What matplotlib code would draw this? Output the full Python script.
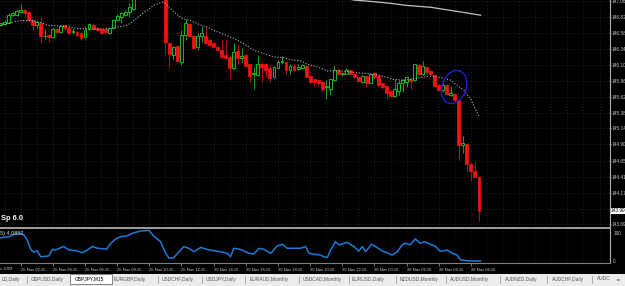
import numpy as np
import matplotlib
matplotlib.use('Agg')
import matplotlib.pyplot as plt
import matplotlib.transforms as mtransforms
from matplotlib.patches import Rectangle
from matplotlib.lines import Line2D

plt.rcParams['font.family'] = ['Liberation Sans', 'DejaVu Sans']

# GBPJPY M15 candles, 25 Nov 01:00 .. 26 Nov 06:45
opens = [146.70, 146.72, 146.74, 146.85, 146.85, 146.90, 146.93, 146.90, 146.78, 146.70,
         146.74, 146.53, 146.55, 146.52, 146.64, 146.60, 146.70, 146.66, 146.59, 146.60,
         146.58, 146.52, 146.64, 146.71, 146.65, 146.64, 146.64, 146.58, 146.65, 146.78,
         146.83, 146.85, 146.90, 146.94, 147.12, 147.22, 147.30, 147.26, 147.35, 147.30,
         147.28, 147.20, 146.43, 146.25, 146.39, 146.15, 146.55, 146.72, 146.54, 146.37,
         146.54, 146.54, 146.48, 146.43, 146.37, 146.33, 146.25, 146.22, 146.05, 146.31,
         146.21, 146.25, 146.11, 145.96, 145.95, 146.12, 146.11, 146.05, 145.91, 146.06,
         146.14, 146.15, 146.03, 146.09, 146.04, 146.05, 146.08, 145.93, 145.88, 145.87,
         145.84, 145.76, 145.74, 145.87, 146.03, 145.96, 145.97, 146.02, 145.97, 145.91,
         145.84, 145.93, 145.83, 145.98, 145.93, 145.82, 145.78, 145.71, 145.63, 145.71,
         145.82, 145.84, 145.89, 145.87, 146.10, 145.96, 146.07, 146.01, 145.94, 145.79,
         145.72, 145.79, 145.65, 145.66, 145.57, 144.89, 144.90, 144.60, 144.50, 144.41]
highs = [146.74, 146.78, 146.89, 146.90, 146.94, 147.02, 146.94, 146.91, 146.79, 146.77,
         146.84, 146.64, 146.56, 146.65, 146.65, 146.70, 146.71, 146.68, 146.65, 146.61,
         146.59, 146.68, 146.74, 146.73, 146.67, 146.65, 146.65, 146.66, 146.79, 146.87,
         146.90, 146.93, 147.04, 147.16, 147.25, 147.34, 147.36, 147.42, 147.40, 147.38,
         147.33, 147.25, 146.45, 146.38, 146.40, 146.63, 146.80, 146.74, 146.55, 146.58,
         146.69, 146.65, 146.50, 146.44, 146.38, 146.47, 146.47, 146.25, 146.43, 146.42,
         146.35, 146.26, 146.12, 146.07, 146.25, 146.14, 146.13, 146.10, 146.08, 146.18,
         146.23, 146.16, 146.11, 146.11, 146.12, 146.12, 146.10, 145.94, 145.89, 145.88,
         145.85, 145.87, 145.89, 146.10, 146.05, 146.00, 146.06, 146.03, 145.98, 145.92,
         145.94, 145.94, 145.98, 146.00, 145.94, 145.83, 145.79, 145.72, 145.89, 145.87,
         145.88, 145.92, 145.92, 146.12, 146.11, 146.16, 146.08, 146.02, 145.96, 145.81,
         145.82, 145.81, 145.78, 145.67, 145.58, 145.03, 144.92, 144.64, 144.64, 144.42]
lows = [146.69, 146.70, 146.73, 146.84, 146.84, 146.89, 146.83, 146.77, 146.62, 146.65,
        146.44, 146.49, 146.45, 146.51, 146.58, 146.58, 146.63, 146.57, 146.57, 146.54,
        146.48, 146.49, 146.63, 146.63, 146.62, 146.57, 146.59, 146.57, 146.64, 146.76,
        146.74, 146.84, 146.83, 146.93, 147.10, 147.18, 147.20, 147.24, 147.25, 147.22,
        147.15, 146.27, 146.05, 146.17, 146.15, 146.10, 146.48, 146.53, 146.35, 146.33,
        146.45, 146.42, 146.39, 146.36, 146.32, 146.21, 146.20, 145.90, 146.02, 146.12,
        146.13, 146.07, 145.84, 145.74, 145.93, 145.84, 145.92, 145.84, 145.90, 146.05,
        146.12, 145.96, 145.97, 146.01, 146.03, 146.04, 145.91, 145.82, 145.78, 145.78,
        145.71, 145.58, 145.64, 145.85, 145.95, 145.93, 145.96, 145.96, 145.90, 145.84,
        145.83, 145.76, 145.82, 145.90, 145.78, 145.74, 145.59, 145.61, 145.62, 145.64,
        145.69, 145.76, 145.73, 145.85, 145.95, 145.95, 145.97, 145.95, 145.76, 145.71,
        145.69, 145.64, 145.63, 145.54, 144.66, 144.77, 144.49, 144.34, 144.40, 143.75]
closes = [146.73, 146.75, 146.85, 146.88, 146.92, 146.93, 146.89, 146.78, 146.70, 146.75,
          146.53, 146.54, 146.52, 146.64, 146.59, 146.69, 146.65, 146.58, 146.61, 146.55,
          146.51, 146.63, 146.72, 146.64, 146.63, 146.58, 146.60, 146.65, 146.78, 146.84,
          146.88, 146.90, 146.97, 147.12, 147.22, 147.30, 147.26, 147.35, 147.30, 147.28,
          147.24, 146.45, 146.27, 146.37, 146.16, 146.55, 146.73, 146.54, 146.36, 146.54,
          146.58, 146.43, 146.40, 146.37, 146.33, 146.22, 146.21, 146.05, 146.30, 146.20,
          146.23, 146.08, 145.93, 145.98, 146.12, 146.07, 146.03, 145.90, 146.07, 146.15,
          146.16, 146.03, 146.08, 146.03, 146.07, 146.10, 145.92, 145.84, 145.84, 145.82,
          145.73, 145.78, 145.88, 146.03, 145.96, 145.98, 146.03, 145.97, 145.91, 145.86,
          145.93, 145.83, 145.97, 145.92, 145.79, 145.76, 145.67, 145.63, 145.73, 145.83,
          145.87, 145.91, 145.85, 146.11, 145.96, 146.08, 146.00, 145.96, 145.78, 145.72,
          145.79, 145.66, 145.68, 145.57, 144.89, 144.92, 144.60, 144.50, 144.40, 143.90]

# dotted moving average (bar position, price)
ma_x = [0, 2.5, 5.0, 7.5, 10.0, 11.6, 14.1, 16.6, 19.1, 21.6, 24.9, 27.4, 31.5, 33.2, 34.8,
        36.5, 38.1, 39.8, 40.6, 41.5, 43.1, 45.2, 47.3, 49.8, 51.4, 54.7, 58.0, 60.5, 63.0,
        65.5, 68.0, 70.5, 72.1, 74.6, 76.3, 78.8, 81.3, 83.8, 86.2, 88.7, 91.2, 93.7, 96.2,
        97.8, 100.3, 102.0, 104.5, 107.0, 109.5, 111.9, 113.6, 115.2, 116.9, 119.0]
ma_y = [146.70, 146.74, 146.77, 146.77, 146.74, 146.70, 146.69, 146.68, 146.65, 146.64,
        146.64, 146.65, 146.70, 146.77, 146.85, 146.93, 147.00, 147.04, 147.05, 147.00,
        146.90, 146.80, 146.77, 146.70, 146.67, 146.58, 146.50, 146.42, 146.32, 146.27,
        146.22, 146.21, 146.18, 146.16, 146.11, 146.07, 146.01, 146.01, 146.00, 145.98,
        145.97, 145.95, 145.91, 145.88, 145.87, 145.88, 145.91, 145.93, 145.91, 145.87,
        145.79, 145.72, 145.59, 145.32]

# long moving average (solid grey, top right)
ma2_x = [85.0, 87.8, 92.8, 97.0, 100.7, 107.0, 114.4, 119.4]
ma2_y = [147.12, 147.08, 147.055, 147.03, 147.00, 146.97, 146.90, 146.85]

# indicator (0..100)
ind_x = [0.0, 2.1, 3.3, 5.0, 5.8, 6.6, 7.5, 8.3, 9.1, 10.0, 12.0, 12.9, 13.7, 14.9, 15.7,
         17.0, 19.1, 20.3, 21.6, 22.8, 24.1, 26.4, 27.4, 28.6, 29.9, 31.5, 32.8, 34.8, 36.9,
         38.1, 39.8, 41.0, 41.9, 43.1, 44.4, 45.6, 46.8, 48.1, 49.8, 51.4, 53.1, 54.7, 56.4,
         57.2, 58.0, 59.7, 61.8, 63.0, 64.3, 65.5, 67.2, 68.8, 70.1, 71.3, 74.6, 75.9, 76.7,
         77.9, 79.6, 80.4, 81.3, 82.1, 83.3, 84.2, 86.2, 87.9, 89.1, 90.0, 90.8, 92.3, 93.7,
         95.0, 96.2, 97.4, 98.7, 99.9, 100.7, 101.8, 103.2, 104.3, 105.5, 107.0, 108.2, 109.3,
         110.3, 111.1, 112.4, 113.6, 114.4, 116.1, 117.7, 119.4]
ind_v = [82, 86, 94, 98, 92, 74, 41, 31, 36, 15, 18, 41, 39, 47, 51,
         39, 36, 29, 39, 51, 45, 42, 63, 77, 86, 89, 98, 106, 108,
         88, 68, 29, 10, 12, 33, 51, 45, 33, 48, 41, 36, 33, 27,
         15, 45, 41, 27, 25, 45, 41, 27, 53, 59, 45, 45, 51, 27,
         24, 21, 15, 13, 39, 68, 57, 66, 51, 35, 51, 33, 59, 47,
         35, 29, 21, 33, 57, 63, 57, 78, 63, 68, 59, 51, 35,
         36, 39, 27, 21, 4, 1, 0, 0]

price_ticks = [147.06, 146.82, 146.58, 146.34, 146.10, 145.86, 145.62, 145.38, 145.14,
               144.90, 144.65, 144.41, 144.17, 143.93, 143.69]
time_labels = ['25 Nov 02:15', '25 Nov 04:15', '25 Nov 06:15', '25 Nov 08:15', '25 Nov 10:15',
               '25 Nov 12:15', '25 Nov 14:15', '25 Nov 16:15', '25 Nov 18:15', '25 Nov 20:15',
               '25 Nov 22:15', '26 Nov 00:15', '26 Nov 02:15', '26 Nov 04:15', '26 Nov 06:15']
# first date label and first tab are cut by the window edge in the screenshot
first_time_label = 'v 2009'
tab_names = ['LD,Daily', 'GBPUSD,Daily', 'GBPJPY,M15', 'EURGBP,Daily', 'USDCHF,Daily',
             'USDJPY,Daily', 'EURAUD,Monthly', 'USDCAD,Monthly', 'EURUSD,Daily',
             'NZDUSD,Monthly', 'AUDUSD,Monthly', 'AUDNZD,Daily', 'AUDCHF,Daily', 'AUDC']
active_tab = 'GBPJPY,M15'

W, H = 625, 286
def fx(px):
    return px / W
def fy(py):
    return 1 - py / H

fig = plt.figure(figsize=(W / 100, H / 100), dpi=100, facecolor='black')
ax = fig.add_axes([0, fy(227), fx(609), 227 / H], facecolor='black')
ax2 = fig.add_axes([0, fy(263), fx(609), 34 / H], facecolor='black', sharex=ax)

n = len(closes)
o = np.array(opens); c = np.array(closes); hi = np.array(highs); lo = np.array(lows)
idx = np.arange(n)
up = c >= o

# grid
grid_style = dict(color='#2c2c2c', lw=0.6, ls=(0, (1, 2.5)), zorder=0)
for b in range(1, 152, 4):
    ax.axvline(b, **grid_style)
    ax2.axvline(b, color='#1c1c1c', lw=0.5, ls=(0, (1, 2.5)), zorder=0)
for p in price_ticks:
    ax.axhline(p, **grid_style)

# candles
ax.vlines(idx[up], lo[up], hi[up], colors='#1a9a1a', lw=0.75, zorder=2)
ax.vlines(idx[~up], lo[~up], hi[~up], colors='#b01010', lw=0.75, zorder=2)
body_h = np.maximum(np.abs(c - o), 0.006)
body_b = np.minimum(o, c)
ax.bar(idx[up], body_h[up], bottom=body_b[up], width=0.72, facecolor='black',
       edgecolor='#18b018', lw=0.75, zorder=3)
ax.bar(idx[~up], body_h[~up], bottom=body_b[~up], width=0.72, facecolor='#ff1010',
       edgecolor='#ff1010', lw=0.5, zorder=3)

# moving averages
ax.plot(ma_x, ma_y, color='#b4b4b4', lw=0.8, ls=(0, (1, 1.6)), zorder=4)
ax.plot(ma2_x, ma2_y, color='#c4c4c4', lw=0.9, zorder=4)

# hand drawn ellipse
ppx = 609 / 151.5           # px per bar
ppp = 227 / (147.08 - 143.652)  # px per price unit
t = np.linspace(0, 2 * np.pi, 120)
th = np.radians(70)
ex = 17 * np.cos(t) * np.cos(th) - 12 * np.sin(t) * np.sin(th)
ey = 17 * np.cos(t) * np.sin(th) + 12 * np.sin(t) * np.cos(th)
ax.plot(112.8 + ex / ppx, 145.766 + ey / ppp, color='#1c1cd4', lw=1.0, zorder=5)

ax.set_xlim(-0.15, 151.35)
ax.set_ylim(143.652, 147.08)
for s in ax.spines.values():
    s.set_visible(False)
ax.tick_params(axis='x', length=0, labelbottom=False)
ax.yaxis.tick_right()
ax.set_yticks(price_ticks)
ax.set_yticklabels(['' if abs(p - 143.93) < 0.005 else f'{p:.2f}' for p in price_ticks])
ax.tick_params(axis='y', colors='#c8c8c8', labelsize=3.4, length=1.2, width=0.5, pad=0.4)

# current price box
blend = mtransforms.blended_transform_factory(ax.transAxes, ax.transData)
ax.text(1.003, c[-1], f'{c[-1]:.2f}', transform=blend, fontsize=3.4, color='black',
        va='center', ha='left', clip_on=False,
        bbox=dict(facecolor='white', edgecolor='none', pad=0.4))

fig.text(fx(1), fy(219), 'Sp 6.0', color='white', fontsize=5.4, fontweight='bold', va='center')

# indicator panel
ax2.plot(ind_x, ind_v, color='#1c7ad8', lw=1.1, zorder=3)
ax2.set_ylim(-7, 113)
for s in ax2.spines.values():
    s.set_visible(False)
ax2.yaxis.tick_right()
ax2.set_yticks([0, 100])
ax2.set_yticklabels(['0', '100'])
ax2.tick_params(axis='y', colors='#c8c8c8', labelsize=3.4, length=0, pad=3)
tick_bars = [5 + 8 * k for k in range(len(time_labels))]
ax2.set_xticks(tick_bars)
ax2.set_xticklabels(time_labels, ha='left')
ax2.tick_params(axis='x', colors='#a0a0a0', labelcolor='#d0d0d0', labelsize=3.0,
                length=2.5, width=0.5, pad=0.8)
fig.text(fx(0.5), fy(268.5), first_time_label, fontsize=3.0, color='#d0d0d0', va='center')
fig.text(fx(0), fy(234), '5) 4.0852', color='#d0d0d0', fontsize=4.0, va='center')

# frame lines
fig.add_artist(Rectangle((0, fy(229)), fx(610), 2 / H, transform=fig.transFigure,
                         facecolor='#9a9a9a', edgecolor='none'))
fig.add_artist(Line2D([fx(609.5), fx(609.5)], [fy(0), fy(263)], color='#b0b0b0', lw=0.8))
fig.add_artist(Line2D([0, fx(610)], [fy(263), fy(263)], color='#808080', lw=0.8))

# tab bar
fig.add_artist(Rectangle((0, 0), 1, 12.5 / H, transform=fig.transFigure,
                         facecolor='#ebebeb', edgecolor='none'))
tab_x = [2, 31, 75, 114, 162, 206, 250, 303, 352, 400, 450, 505, 552, 597]
sep_x = [27, 158, 202, 245, 299, 349, 396, 446, 500, 547, 592]
for name, x in zip(tab_names, tab_x):
    if name == active_tab:
        fig.add_artist(Rectangle((fx(70), fy(284)), fx(42), 10 / H, transform=fig.transFigure,
                                 facecolor='white', edgecolor='#707070', lw=0.6))
        fig.text(fx(x), fy(279), name, color='black', fontsize=3.5, va='center')
    else:
        fig.text(fx(x), fy(279), name, color='#555555', fontsize=3.5, va='center')
for x in sep_x:
    fig.add_artist(Line2D([fx(x), fx(x)], [fy(276), fy(283)], color='#a0a0a0', lw=0.6))
fig.text(fx(616), fy(279), '\u25c4', color='#555555', fontsize=3.2, va='center',
         family='DejaVu Sans')

fig.savefig('out.png', dpi=100, facecolor=fig.get_facecolor())
